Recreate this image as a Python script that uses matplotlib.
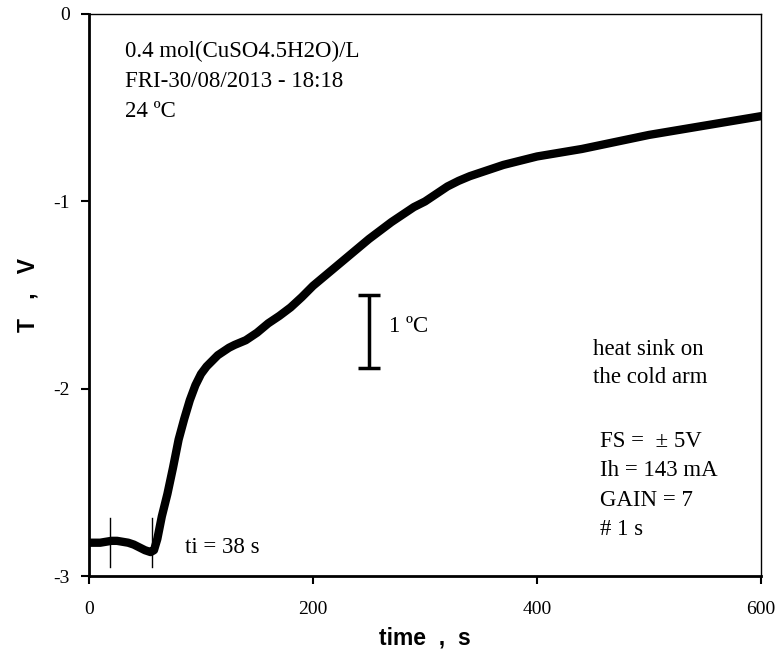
import matplotlib
matplotlib.use("Agg")
import matplotlib.pyplot as plt

# time (s) and signal (V)
time_s = [0, 5, 10, 15, 20, 25, 30, 35, 40, 45, 50, 55, 58, 61, 65, 70, 75, 80,
          85, 90, 95, 100, 105, 110, 115, 120, 125, 130, 140, 150, 160, 170,
          180, 190, 200, 210, 220, 230, 240, 250, 260, 270, 280, 290, 300,
          310, 320, 330, 340, 350, 360, 370, 380, 390, 400, 410, 420, 440,
          460, 480, 500, 520, 540, 560, 580, 600]
signal_v = [-2.82, -2.82, -2.82, -2.815, -2.81, -2.81, -2.815, -2.82, -2.83,
            -2.845, -2.86, -2.87, -2.86, -2.80, -2.68, -2.56, -2.42, -2.27,
            -2.16, -2.06, -1.98, -1.92, -1.88, -1.85, -1.82, -1.80, -1.78,
            -1.765, -1.74, -1.70, -1.65, -1.61, -1.565, -1.51, -1.45, -1.40,
            -1.35, -1.30, -1.25, -1.20, -1.155, -1.11, -1.07, -1.03, -1.00,
            -0.96, -0.92, -0.89, -0.865, -0.845, -0.825, -0.805, -0.79,
            -0.775, -0.76, -0.75, -0.74, -0.72, -0.695, -0.67, -0.645,
            -0.625, -0.605, -0.585, -0.565, -0.545]

marker_times = [18.7, 56]
x_ticks = [0, 200, 400, 600]
y_ticks = [0, -1, -2, -3]

info_left = ["0.4 mol(CuSO4.5H2O)/L", "FRI-30/08/2013 - 18:18", "24 ºC"]
info_right = ["heat sink on", "the cold arm"]
settings = ["FS =  ± 5V", "Ih = 143 mA", "GAIN = 7", "# 1 s"]

serif = "Liberation Serif"
sans = "Liberation Sans"
note_size = 16.5

fig = plt.figure(figsize=(7.78, 6.53), dpi=100)
ax = fig.add_axes([0.1144, 0.1172, 0.8638, 0.8614])

ax.plot(time_s, signal_v, color="black", linewidth=6, solid_capstyle="round",
        solid_joinstyle="round")

for t in marker_times:
    ax.plot([t, t], [-2.69, -2.95], color="black", linewidth=1)

# 1 ºC scale bar
ax.errorbar([249.7], [-1.694], yerr=[[0.194], [0.194]], color="black",
            linewidth=2.5, capsize=8, capthick=2.5)
ax.text(268, -1.668, "1 ºC", family=serif, fontsize=note_size, va="center")

ax.text(85.6, -2.875, "ti = 38 s", family=serif, fontsize=note_size,
        va="baseline")

for i, line in enumerate(info_left):
    ax.text(32, -0.228 - 0.16 * i, line, family=serif, fontsize=note_size,
            va="baseline")
for i, line in enumerate(info_right):
    ax.text(450, -1.819 - 0.15 * i, line, family=serif, fontsize=note_size,
            va="baseline")
for i, line in enumerate(settings):
    ax.text(456, -2.309 - 0.157 * i, line, family=serif, fontsize=note_size,
            va="baseline")

ax.set_xlim(0, 600)
ax.set_ylim(-3, 0)
ax.set_xticks(x_ticks)
ax.set_yticks(y_ticks)
ax.set_xticklabels([str(v) for v in x_ticks], family=serif, fontsize=14)
ax.set_yticklabels([str(v) for v in y_ticks], family=serif, fontsize=14)
ax.tick_params(axis="x", direction="out", length=6, width=1.5, pad=12)
ax.tick_params(axis="y", direction="out", length=6, width=1.5, pad=8)

for side in ["left", "bottom"]:
    ax.spines[side].set_linewidth(2)
for side in ["top", "right"]:
    ax.spines[side].set_linewidth(1)

ax.set_xlabel("time  ,  s", family=sans, fontsize=16.5, fontweight="bold",
              labelpad=6)
ax.set_ylabel("T   ,   V", family=sans, fontsize=16.5, fontweight="bold",
              labelpad=10)

fig.savefig("out.png", dpi=100)
